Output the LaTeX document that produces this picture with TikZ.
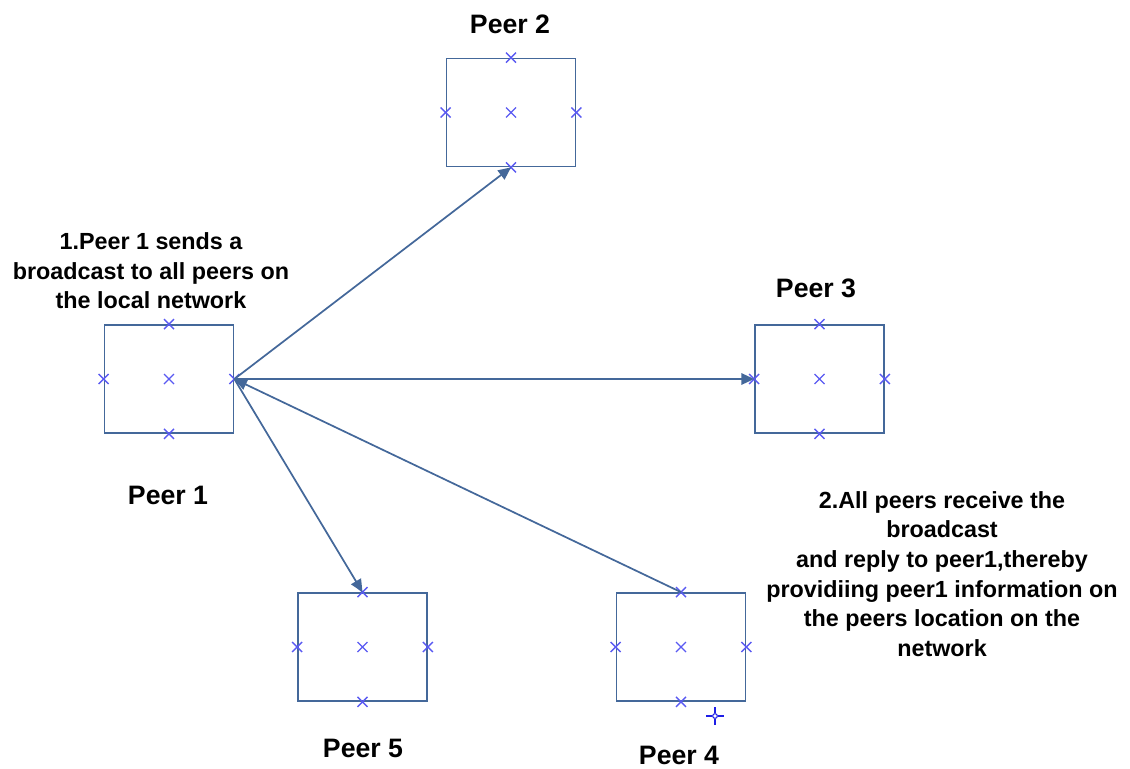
\documentclass[tikz,border=0pt]{standalone}
\usepackage{fontspec}
\setmainfont{Liberation Sans}
\usetikzlibrary{shapes.misc,arrows.meta}
\definecolor{boxblue}{HTML}{44689A}
\definecolor{markblue}{HTML}{5A5AF2}
\definecolor{pinblue}{HTML}{1E1EE6}
\tikzset{
  peerbox/.style={draw=boxblue,line width=1.3pt,minimum width=96.75pt,minimum height=81pt,inner sep=0pt},
  xmark/.style={cross out,draw=markblue,line width=1pt,minimum size=6.5pt,inner sep=0pt},
  link/.style={draw=boxblue,line width=1.3pt,-{Triangle[length=9.5pt,width=8.5pt]}},
  peerlabel/.style={font=\bfseries\fontsize{20}{24}\selectfont,text=black},
  note/.style={font=\bfseries\fontsize{17.5}{22.2}\selectfont,align=center,text=black}
}
\begin{document}
\begin{tikzpicture}[x=0.75pt,y=-0.75pt]
\useasboundingbox (0,0) rectangle (1130,768);

% peers
\node[peerbox] (p1) at (169,379) {};
\node[peerbox] (p2) at (511,112.5) {};
\node[peerbox] (p3) at (819.5,379) {};
\node[peerbox] (p5) at (362.5,647) {};
\node[peerbox] (p4) at (681,647) {};

% connection points on each peer
\foreach \p in {p1,p2,p3,p4,p5}{
  \node[xmark] (\p c) at (\p.center) {};
  \node[xmark] (\p n) at (\p.north) {};
  \node[xmark] (\p s) at (\p.south) {};
  \node[xmark] (\p w) at (\p.west) {};
  \node[xmark] (\p e) at (\p.east) {};
}

% broadcast and reply
\draw[link] (p1.east) -- (p2.south);
\draw[link] (p1.east) -- (p3.west);
\draw[link] (p1.east) -- (p5.north);
\draw[link] (p4.north) -- (p1.east);

% labels
\node[peerlabel] (l2) at (510,24.5) {Peer 2};
\node[peerlabel] (l3) at (816,288) {Peer 3};
\node[peerlabel] (l1) at (168,495) {Peer 1};
\node[peerlabel] (l5) at (363,748) {Peer 5};
\node[peerlabel] (l4) at (679,755) {Peer 4};

\node[note] (n1) at (151,271) {1.Peer 1 sends a\\broadcast to all peers on\\the local network};
\node[note] (n2) at (942,574) {2.All peers receive the\\broadcast\\and reply to peer1,thereby\\providiing peer1 information on\\the peers location on the\\network};

% insertion pin
\node[circle,draw=pinblue,line width=0.8pt,minimum size=3.5pt,inner sep=0pt] (pin) at (715,716) {};
\draw[pinblue,line width=1pt] (pin.north) -- ++(0,-6) (pin.south) -- ++(0,6)
  (pin.west) -- ++(-6,0) (pin.east) -- ++(6,0);
\end{tikzpicture}
\end{document}
